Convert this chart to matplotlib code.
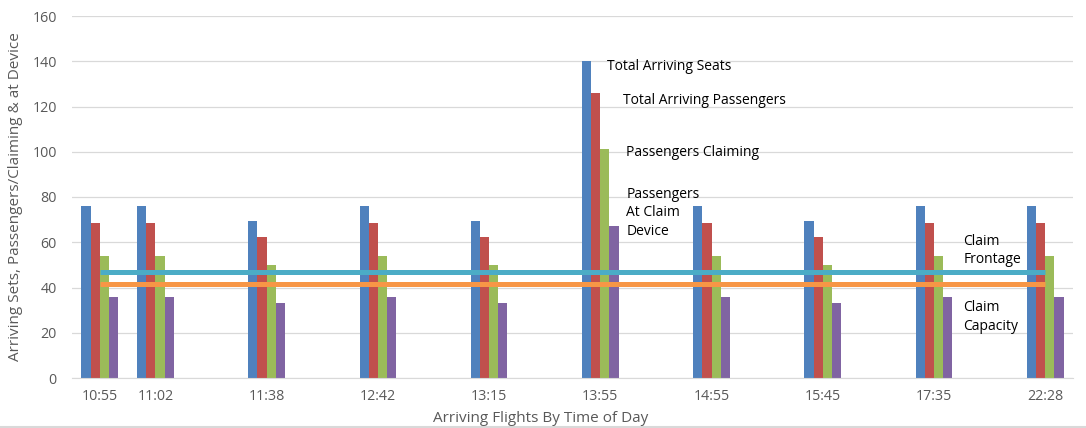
import matplotlib
matplotlib.use("Agg")
import matplotlib.pyplot as plt
import numpy as np

times = ["10:55", "11:02", "11:38", "12:42", "13:15", "13:55", "14:55", "15:45", "17:35", "22:28"]
total_seats = [76, 76, 69.5, 76, 69.5, 140, 76, 69.5, 76, 76]
total_passengers = [68.5, 68.5, 62.5, 68.5, 62.5, 126, 68.5, 62.5, 68.5, 68.5]
passengers_claiming = [54, 54, 50, 54, 50, 101, 54, 50, 54, 54]
at_claim_device = [36, 36, 33, 36, 33, 67, 36, 33, 36, 36]
claim_frontage = 47
claim_capacity = 41.5

colors = ["#4F81BD", "#C0504D", "#9BBB59", "#8064A2"]
series = [total_seats, total_passengers, passengers_claiming, at_claim_device]

plt.rcParams['font.family'] = ['Open Sans', 'DejaVu Sans']

fig = plt.figure(figsize=(10.86, 4.28), dpi=100)
ax = fig.add_axes([72/1086, 50/428, (1073-72)/1086, 362/428])

# category slots (Excel category axis with blank slots between later flights)
pos = np.array([0, 1] + list(range(3, 18, 2)), dtype=float)
bw = 0.165
for i, (vals, c) in enumerate(zip(series, colors)):
    ax.bar(pos + (i - 1.5) * bw, vals, width=bw, color=c, zorder=2)

ax.plot([pos[0], pos[-1]], [claim_frontage] * 2, color="#4BACC6", lw=3.6, zorder=3, solid_capstyle='butt')
ax.plot([pos[0], pos[-1]], [claim_capacity] * 2, color="#F79646", lw=3.6, zorder=3, solid_capstyle='butt')

ax.set_xlim(-0.5, 17.5)
ax.set_ylim(0, 160)
ax.set_yticks(range(0, 161, 20))
ax.set_xticks(pos)
ax.set_xticklabels(times)
ax.grid(axis='y', color='#D9D9D9', lw=0.9, zorder=0)
for s in ['top', 'right', 'left']:
    ax.spines[s].set_visible(False)
ax.spines['bottom'].set_color('#D9D9D9')
ax.tick_params(axis='both', length=0, colors='#595959', labelsize=10.3)
ax.tick_params(axis='y', pad=11)
ax.tick_params(axis='x', pad=8)

ax.set_ylabel("Arriving Sets, Passengers/Claiming & at Device", color='#595959', fontsize=11, labelpad=7)
fig.text(541/1086, 2/428, "Arriving Flights By Time of Day", color='#595959', fontsize=11,
         ha='center', va='bottom', zorder=5)

tkw = dict(fontsize=10, color='black', ha='left', va='center')
ax.text(pos[5] + 0.12, 137.5, "Total Arriving Seats", **tkw)
ax.text(pos[5] + 0.41, 122.5, "Total Arriving Passengers", **tkw)
ax.text(pos[5] + 0.47, 99.5, "Passengers Claiming", **tkw)
ax.text(pos[5] + 0.47, 73, "Passengers\nAt Claim\nDevice", linespacing=1.3, **tkw)
ax.text(pos[8] + 0.53, 56.5, "Claim\nFrontage", linespacing=1.3, **tkw)
ax.text(pos[8] + 0.53, 27, "Claim\nCapacity", linespacing=1.3, **tkw)

fig.add_artist(plt.Line2D([0, 1], [1.5/428, 1.5/428], color='#D9D9D9', lw=1.5, transform=fig.transFigure, zorder=1))

fig.savefig("out.png", dpi=100)
